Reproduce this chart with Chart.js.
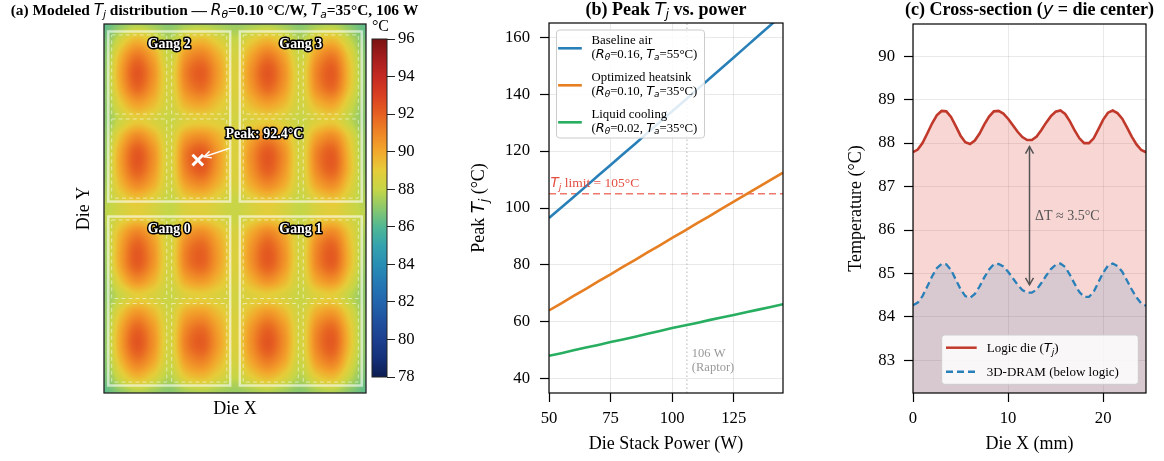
<!DOCTYPE html>
<html>
<head>
<meta charset="utf-8">
<title>Logic die thermal model</title>
<script src="https://cdn.jsdelivr.net/npm/chart.js@4.4.1/dist/chart.umd.min.js"></script>
<style>
  html, body { margin: 0; padding: 0; background: #fff; }
  #fig { position: relative; width: 1164px; height: 461px; overflow: hidden; }
  #fig canvas { position: absolute; left: 0; top: 0; }
</style>
</head>
<body>
<div id="fig">
  <canvas id="heat" width="1164" height="461"></canvas>
  <canvas id="cbar" width="1164" height="461"></canvas>
  <canvas id="power" width="1164" height="461"></canvas>
  <canvas id="xsec" width="1164" height="461"></canvas>
</div>
<script>
// ---------- (a) modeled Tj map (°C); columns = die X (mm), rows listed from the top edge ----------
const heatXmm = [0, 1.53, 3.06, 4.59, 6.13, 7.66, 9.19, 10.72, 12.25, 13.78, 15.31, 16.84, 18.38, 19.91, 21.44, 22.97, 24.5];
const heatYmm = [34.5, 33, 31.5, 30, 28.5, 27, 25.5, 24, 22.5, 21, 19.5, 18, 16.5, 15, 13.5, 12, 10.5, 9, 7.5, 6, 4.5, 3, 1.5, 0];
const heatRows = [
  [86.2, 87.0, 87.6, 87.3, 86.9, 87.4, 87.6, 87.4, 87.2, 87.4, 87.6, 87.3, 86.9, 87.4, 87.6, 86.9, 86.2],
  [86.6, 88.4, 89.6, 88.8, 87.7, 89.1, 89.5, 88.7, 88.0, 88.9, 89.6, 88.8, 87.7, 89.0, 89.5, 88.0, 86.6],
  [86.8, 89.6, 91.4, 90.1, 88.1, 90.5, 91.2, 89.8, 88.4, 90.1, 91.4, 90.1, 88.1, 90.4, 91.3, 89.0, 86.8],
  [86.9, 90.1, 92.3, 90.7, 88.4, 91.2, 92.1, 90.3, 88.6, 90.7, 92.3, 90.7, 88.4, 91.1, 92.1, 89.4, 86.9],
  [86.9, 89.8, 91.8, 90.4, 88.4, 90.8, 91.6, 90.0, 88.6, 90.4, 91.8, 90.4, 88.4, 90.8, 91.7, 89.2, 86.9],
  [86.9, 88.9, 90.2, 89.5, 88.3, 89.7, 90.1, 89.2, 88.5, 89.5, 90.2, 89.5, 88.3, 89.6, 90.1, 88.4, 86.9],
  [86.9, 88.2, 89.0, 88.6, 88.1, 88.7, 88.9, 88.7, 88.4, 88.7, 89.0, 88.6, 88.1, 88.7, 89.0, 87.9, 86.9],
  [87.0, 89.3, 90.9, 89.8, 88.3, 90.2, 90.7, 89.7, 88.6, 89.9, 90.9, 89.8, 88.3, 90.1, 90.8, 88.9, 87.0],
  [87.0, 90.1, 92.2, 90.7, 88.4, 91.3, 92.2, 90.3, 88.6, 90.7, 92.2, 90.7, 88.4, 91.1, 92.0, 89.4, 87.0],
  [87.1, 90.1, 92.1, 90.6, 88.4, 91.2, 92.2, 90.3, 88.6, 90.6, 92.1, 90.6, 88.4, 91.0, 92.0, 89.5, 87.1],
  [87.3, 89.5, 90.9, 89.9, 88.3, 90.2, 90.8, 89.6, 88.5, 89.9, 90.9, 89.9, 88.3, 90.1, 90.8, 89.0, 87.3],
  [87.6, 88.6, 89.2, 88.7, 88.0, 88.9, 89.1, 88.6, 88.1, 88.7, 89.2, 88.7, 88.0, 88.8, 89.2, 88.4, 87.6],
  [87.8, 88.5, 89.0, 88.6, 88.0, 88.7, 88.9, 88.5, 88.1, 88.6, 89.0, 88.6, 88.0, 88.7, 89.0, 88.4, 87.8],
  [87.4, 89.6, 91.0, 89.9, 88.3, 90.2, 90.8, 89.6, 88.5, 89.9, 91.0, 89.9, 88.3, 90.2, 90.9, 89.1, 87.4],
  [87.2, 90.1, 92.1, 90.6, 88.4, 91.1, 91.9, 90.2, 88.6, 90.6, 92.1, 90.6, 88.4, 91.0, 92.0, 89.5, 87.2],
  [87.1, 90.1, 92.1, 90.6, 88.4, 91.1, 91.9, 90.2, 88.6, 90.6, 92.1, 90.6, 88.4, 91.0, 92.0, 89.5, 87.1],
  [87.0, 89.2, 90.7, 89.7, 88.3, 90.0, 90.5, 89.5, 88.5, 89.7, 90.7, 89.7, 88.3, 90.0, 90.6, 88.8, 87.0],
  [87.0, 88.1, 88.9, 88.6, 88.1, 88.7, 88.9, 88.6, 88.4, 88.7, 88.9, 88.6, 88.1, 88.7, 88.9, 87.9, 87.0],
  [87.0, 89.1, 90.5, 89.6, 88.3, 89.9, 90.3, 89.4, 88.5, 89.6, 90.5, 89.6, 88.3, 89.9, 90.4, 88.7, 87.0],
  [86.9, 89.9, 91.9, 90.5, 88.4, 90.9, 91.7, 90.1, 88.6, 90.5, 91.9, 90.5, 88.4, 90.9, 91.8, 89.3, 86.9],
  [86.9, 90.1, 92.3, 90.7, 88.4, 91.2, 92.1, 90.3, 88.6, 90.7, 92.3, 90.7, 88.4, 91.1, 92.1, 89.4, 86.9],
  [86.8, 89.5, 91.3, 90.1, 88.2, 90.4, 91.1, 89.7, 88.4, 90.1, 91.3, 90.1, 88.2, 90.4, 91.2, 88.9, 86.8],
  [86.6, 88.4, 89.6, 88.8, 87.7, 89.1, 89.5, 88.7, 88.0, 88.9, 89.6, 88.8, 87.7, 89.0, 89.5, 88.0, 86.6],
  [86.2, 87.0, 87.6, 87.3, 86.9, 87.4, 87.6, 87.4, 87.2, 87.4, 87.6, 87.3, 86.9, 87.4, 87.6, 86.9, 86.2]
];
const cbarTicks = [78, 80, 82, 84, 86, 88, 90, 92, 94, 96];
const gangNames = ['Gang 2', 'Gang 3', 'Gang 0', 'Gang 1'];
const peakAt = [{ x: 8.77, y: 21.78 }];
const peakText = 'Peak: 92.4°C';

// ---------- (b) peak Tj vs. die stack power ----------
const powerW = [50, 55, 60, 65, 70, 75, 80, 85, 90, 95, 100, 105, 110, 115, 120, 125, 130, 135, 140, 145];
const tjBaselineAir = [96.5, 100.2, 103.9, 107.6, 111.4, 115.1, 118.9, 122.6, 126.4, 130.2, 134.0, 137.7, 141.5, 145.3, 149.1, 152.9, 156.7, 160.5, 164.3, 168.1];
const tjOptimizedHs = [64.0, 66.5, 69.1, 71.6, 74.2, 76.7, 79.3, 81.8, 84.4, 86.9, 89.5, 92.0, 94.6, 97.1, 99.7, 102.2, 104.8, 107.3, 109.9, 112.4];
const tjLiquid = [48.1, 49.0, 50.0, 51.0, 51.9, 52.9, 53.8, 54.8, 55.8, 56.8, 57.8, 58.7, 59.6, 60.6, 61.5, 62.4, 63.4, 64.3, 65.2, 66.2];
const tjLimit = 105;
const raptorPower = 106;
const powerRange = [50, 145];
const tjRange = [35, 165];
const powerTicks = [50, 75, 100, 125];
const tjTicks = [40, 60, 80, 100, 120, 140, 160];

// ---------- (c) cross-section at die center ----------
const dieXmm = [0, 0.5, 1, 1.5, 2, 2.5, 3, 3.5, 4, 4.5, 5, 5.5, 6, 6.5, 7, 7.5, 8, 8.5, 9, 9.5,
  10, 10.5, 11, 11.5, 12, 12.5, 13, 13.5, 14, 14.5, 15, 15.5, 16, 16.5, 17, 17.5, 18, 18.5, 19, 19.5,
  20, 20.5, 21, 21.5, 22, 22.5, 23, 23.5, 24, 24.5];
const logicTemp = [87.79, 87.85, 88.00, 88.22, 88.45, 88.64, 88.74, 88.73, 88.60, 88.39, 88.17, 88.02, 87.98, 88.06, 88.22, 88.43, 88.61, 88.73, 88.74, 88.68,
  88.56, 88.41, 88.26, 88.14, 88.07, 88.07, 88.15, 88.30, 88.47, 88.62, 88.72, 88.75, 88.67, 88.50, 88.29, 88.11, 88.00, 88.00, 88.11, 88.32,
  88.54, 88.70, 88.75, 88.69, 88.56, 88.36, 88.15, 87.97, 87.84, 87.79];
const dramTemp = [84.27, 84.33, 84.48, 84.70, 84.93, 85.12, 85.22, 85.21, 85.08, 84.86, 84.64, 84.48, 84.44, 84.53, 84.70, 84.91, 85.09, 85.21, 85.22, 85.16,
  85.04, 84.89, 84.74, 84.62, 84.56, 84.56, 84.63, 84.78, 84.95, 85.10, 85.20, 85.23, 85.15, 84.97, 84.76, 84.57, 84.46, 84.46, 84.58, 84.80,
  85.02, 85.18, 85.23, 85.17, 85.04, 84.84, 84.63, 84.45, 84.31, 84.26];
const xsecRangeY = [82.25, 90.74];
const xsecTicksX = [0, 10, 20];
const xsecTicksY = [83, 84, 85, 86, 87, 88, 89, 90];
const deltaT = { x: 12.25, from: 84.74, to: 87.92, text: 'ΔT ≈ 3.5°C' };

// ---------- styling ----------
const SERIF = '"Liberation Serif", "Times New Roman", serif';
const MATH = '"DejaVu Sans", sans-serif';
const GRID = 'rgba(0,0,0,0.085)';
const cmapStops = [
  [78, '#0c1e50'], [79, '#15307a'], [80, '#1c3f8e'], [81, '#1f519f'], [82, '#2265ad'],
  [83, '#2579b4'], [84, '#298eb4'], [85, '#34a3ae'], [86, '#50b894'], [87, '#8cc86c'],
  [88, '#c6d647'], [89, '#e6cc38'], [90, '#f2a82c'], [91, '#ef8526'], [92, '#e66021'],
  [93, '#d93f22'], [94, '#c52a23'], [95, '#a41d1d'], [96, '#7a1212']
].map(([v, h]) => [v, parseInt(h.slice(1, 3), 16), parseInt(h.slice(3, 5), 16), parseInt(h.slice(5, 7), 16)]);

Chart.defaults.font.family = SERIF;
Chart.defaults.color = '#000';

function cmap(v) {
  const s = cmapStops;
  if (v <= s[0][0]) return s[0].slice(1);
  for (let i = 1; i < s.length; i++) {
    if (v <= s[i][0]) {
      const t = (v - s[i - 1][0]) / (s[i][0] - s[i - 1][0]);
      return [1, 2, 3].map(k => Math.round(s[i - 1][k] + t * (s[i][k] - s[i - 1][k])));
    }
  }
  return s[s.length - 1].slice(1);
}

function fontOf(style, size) {
  if (style === 'b') return `bold ${size}px ${SERIF}`;
  if (style === 'm') return `italic ${size}px ${MATH}`;
  if (style === 's') return `italic ${(size * 0.7).toFixed(2)}px ${MATH}`;
  return `${size}px ${SERIF}`;
}

// mixed text: parts = [[text, style], ...], y is the baseline
function rich(ctx, parts, x, y, o) {
  const size = o.size;
  ctx.save();
  ctx.translate(x, y);
  if (o.rotate) ctx.rotate(o.rotate);
  ctx.textBaseline = 'alphabetic';
  ctx.textAlign = 'left';
  let w = 0;
  for (const [t, s] of parts) { ctx.font = fontOf(s, size); w += ctx.measureText(t).width; }
  let cx = o.align === 'center' ? -w / 2 : o.align === 'right' ? -w : 0;
  for (const [t, s] of parts) {
    ctx.font = fontOf(s, size);
    const dy = s === 's' ? size * 0.22 : 0;
    if (o.stroke) {
      ctx.lineWidth = o.stroke; ctx.strokeStyle = '#000'; ctx.lineJoin = 'round';
      ctx.strokeText(t, cx, dy);
    }
    ctx.fillStyle = o.color || '#000';
    ctx.fillText(t, cx, dy);
    cx += ctx.measureText(t).width;
  }
  ctx.restore();
}

function frame(chart, color, width) {
  const { ctx, chartArea: a } = chart;
  ctx.save();
  ctx.strokeStyle = color;
  ctx.lineWidth = width;
  ctx.strokeRect(a.left, a.top, a.right - a.left, a.bottom - a.top);
  ctx.restore();
}

function arrowHead(ctx, x, y, ang, len, half) {
  const c = Math.cos(ang), s = Math.sin(ang);
  ctx.beginPath();
  ctx.moveTo(x - len * c + half * s, y - len * s - half * c);
  ctx.lineTo(x, y);
  ctx.lineTo(x - len * c - half * s, y - len * s + half * c);
  ctx.stroke();
}

function legendBox(ctx, x, y, w, h) {
  ctx.save();
  ctx.beginPath();
  ctx.roundRect(x, y, w, h, 3);
  ctx.fillStyle = 'rgba(255,255,255,0.85)';
  ctx.fill();
  ctx.strokeStyle = '#cccccc';
  ctx.lineWidth = 1;
  ctx.stroke();
  ctx.restore();
}

const xy = (xs, ys) => xs.map((x, i) => ({ x, y: ys[i] }));
const fixedTicks = list => s => { s.ticks = list.map(v => ({ value: v })); };

function baseOptions(padding) {
  return {
    responsive: false,
    animation: false,
    devicePixelRatio: 1,
    events: [],
    layout: { padding },
    plugins: { legend: { display: false }, tooltip: { enabled: false } }
  };
}

// ---------- (a) heat map ----------
function gridPos(arr, v) {
  const asc = arr[arr.length - 1] > arr[0];
  for (let i = 0; i < arr.length - 1; i++) {
    const a0 = arr[i], a1 = arr[i + 1];
    if ((asc && v <= a1) || (!asc && v >= a1)) return i + Math.max(0, Math.min(1, (v - a0) / (a1 - a0)));
  }
  return arr.length - 1;
}
function cr(p0, p1, p2, p3, t) {
  return p1 + 0.5 * t * (p2 - p0 + t * (2 * p0 - 5 * p1 + 4 * p2 - p3 + t * (3 * (p1 - p2) + p3 - p0)));
}
function sampleHeat(fx, fy) {
  const nc = heatXmm.length, nr = heatRows.length;
  const i = Math.min(Math.floor(fx), nc - 2), j = Math.min(Math.floor(fy), nr - 2);
  const tx = fx - i, ty = fy - j;
  const ci = k => Math.max(0, Math.min(nc - 1, k));
  const rowAt = r => {
    const R = heatRows[Math.max(0, Math.min(nr - 1, r))];
    return cr(R[ci(i - 1)], R[i], R[i + 1], R[ci(i + 2)], tx);
  };
  return cr(rowAt(j - 1), rowAt(j), rowAt(j + 1), rowAt(j + 2), ty);
}

// gang outlines on the die, mm
const gangBoxes = [
  { x0: 0.4, x1: 11.8, y0: 17.9, y1: 33.8 },
  { x0: 12.7, x1: 24.1, y0: 17.9, y1: 33.8 },
  { x0: 0.4, x1: 11.8, y0: 0.7, y1: 16.5 },
  { x0: 12.7, x1: 24.1, y0: 0.7, y1: 16.5 }
];

const heatPlugin = {
  id: 'heatmap',
  beforeDatasetsDraw(chart) {
    const { ctx, chartArea: a, scales: { x, y } } = chart;
    const w = Math.round(a.right - a.left), h = Math.round(a.bottom - a.top);
    const off = document.createElement('canvas');
    off.width = w; off.height = h;
    const octx = off.getContext('2d');
    const img = octx.createImageData(w, h);
    const fxs = [], fys = [];
    for (let i = 0; i < w; i++) fxs.push(gridPos(heatXmm, x.getValueForPixel(a.left + i + 0.5)));
    for (let j = 0; j < h; j++) fys.push(gridPos(heatYmm, y.getValueForPixel(a.top + j + 0.5)));
    let p = 0;
    for (let j = 0; j < h; j++) {
      for (let i = 0; i < w; i++) {
        const c = cmap(sampleHeat(fxs[i], fys[j]));
        img.data[p++] = c[0]; img.data[p++] = c[1]; img.data[p++] = c[2]; img.data[p++] = 255;
      }
    }
    octx.putImageData(img, 0, 0);
    ctx.drawImage(off, a.left, a.top);

    ctx.save();
    // dashed sub-blocks inside each gang
    ctx.strokeStyle = 'rgba(255,255,255,0.55)';
    ctx.lineWidth = 1;
    ctx.setLineDash([4, 3]);
    gangBoxes.forEach(g => {
      const mx = (g.x0 + g.x1) / 2, my = (g.y0 + g.y1) / 2, gap = 0.23, ins = 0.32;
      const xsR = [[g.x0 + ins, mx - gap], [mx + gap, g.x1 - ins]];
      const ysR = [[g.y0 + ins, my - gap], [my + gap, g.y1 - ins]];
      xsR.forEach(([ax, bx]) => ysR.forEach(([ay, by]) => {
        const px = x.getPixelForValue(ax), py = y.getPixelForValue(by);
        ctx.strokeRect(px, py, x.getPixelForValue(bx) - px, y.getPixelForValue(ay) - py);
      }));
    });
    ctx.setLineDash([]);
    ctx.strokeStyle = 'rgba(255,255,255,0.6)';
    ctx.lineWidth = 2.5;
    gangBoxes.forEach(g => {
      const px = x.getPixelForValue(g.x0), py = y.getPixelForValue(g.y1);
      ctx.strokeRect(px, py, x.getPixelForValue(g.x1) - px, y.getPixelForValue(g.y0) - py);
    });
    ctx.restore();
    gangBoxes.forEach((g, k) => {
      rich(ctx, [[gangNames[k], 'b']], x.getPixelForValue((g.x0 + g.x1) / 2), y.getPixelForValue(g.y1) + 16.5,
        { size: 13.9, align: 'center', color: '#fff', stroke: 3 });
    });
  },
  afterDatasetsDraw(chart) {
    const { ctx, scales: { x, y } } = chart;
    const tx = x.getPixelForValue(11.73), ty = y.getPixelForValue(22.87);
    const hx = x.getPixelForValue(9.36), hy = y.getPixelForValue(22.09);
    ctx.save();
    ctx.strokeStyle = '#fff';
    ctx.lineWidth = 1.5;
    ctx.beginPath(); ctx.moveTo(tx, ty); ctx.lineTo(hx, hy); ctx.stroke();
    arrowHead(ctx, hx, hy, Math.atan2(hy - ty, hx - tx), 7, 3.5);
    ctx.restore();
    rich(ctx, [[peakText, 'b']], x.getPixelForValue(15.01), y.getPixelForValue(24.3) + 4.7,
      { size: 14, align: 'center', color: '#fff', stroke: 3 });
  },
  afterDraw(chart) {
    frame(chart, '#222', 1.3);
    rich(chart.ctx, [['(a) Modeled ', 'b'], ['T', 'm'], ['j', 's'], [' distribution — ', 'b'], ['R', 'm'], ['θ', 's'],
      ['=0.10 °C/W, ', 'b'], ['T', 'm'], ['a', 's'], ['=35°C, 106 W', 'b']], 214.5, 14.5, { size: 15.4, align: 'center' });
  }
};

const heatOpts = baseOptions({ left: 10, right: 798, top: 24, bottom: 6 });
heatOpts.scales = {
  x: {
    type: 'linear', min: 0, max: 24.5,
    afterFit: s => { s.height = 62; },
    grid: { display: false }, border: { display: false }, ticks: { display: false },
    title: { display: true, text: 'Die X', font: { family: SERIF, size: 18 }, color: '#000', padding: { top: 0, bottom: 35 } }
  },
  y: {
    type: 'linear', min: 0, max: 34.5,
    afterFit: s => { s.width = 94; },
    grid: { display: false }, border: { display: false }, ticks: { display: false },
    title: { display: true, text: 'Die Y', font: { family: SERIF, size: 18 }, color: '#000', padding: { top: 63, bottom: 0 } }
  }
};
new Chart(document.getElementById('heat'), {
  type: 'scatter',
  data: {
    datasets: [{
      data: peakAt, pointStyle: 'crossRot', pointRadius: 7.5, borderColor: '#fff', backgroundColor: '#fff', borderWidth: 3
    }]
  },
  options: heatOpts,
  plugins: [heatPlugin]
});

// ---------- colour bar ----------
const cbarPlugin = {
  id: 'cbar',
  beforeDatasetsDraw(chart) {
    const { ctx, chartArea: a, scales: { y } } = chart;
    for (let py = Math.floor(a.top); py < Math.ceil(a.bottom); py++) {
      const c = cmap(y.getValueForPixel(py + 0.5));
      ctx.fillStyle = `rgb(${c[0]},${c[1]},${c[2]})`;
      ctx.fillRect(a.left, py, a.right - a.left, 1);
    }
  },
  afterDraw(chart) {
    frame(chart, '#222', 1);
    const a = chart.chartArea;
    rich(chart.ctx, [['°C', 'r']], (a.left + a.right) / 2 + 1, a.top - 8, { size: 16, align: 'center' });
  }
};
const cbarOpts = baseOptions({ left: 372, right: 737, top: 39, bottom: 84 });
cbarOpts.scales = {
  x: { type: 'linear', display: false, min: 0, max: 1 },
  y: {
    type: 'linear', position: 'right', min: 78, max: 96,
    afterBuildTicks: fixedTicks(cbarTicks),
    afterFit: s => { s.width = 40; },
    grid: { drawOnChartArea: false, tickLength: 8, tickColor: '#222', tickWidth: 1 },
    border: { display: false },
    ticks: { font: { family: SERIF, size: 16.7 }, color: '#000', padding: 3 }
  }
};
new Chart(document.getElementById('cbar'), {
  type: 'scatter', data: { datasets: [] }, options: cbarOpts, plugins: [cbarPlugin]
});

// ---------- (b) peak Tj vs power ----------
const powerLegend = [
  ['Baseline air', [['(', 'r'], ['R', 'm'], ['θ', 's'], ['=0.16, ', 'r'], ['T', 'm'], ['a', 's'], ['=55°C)', 'r']]],
  ['Optimized heatsink', [['(', 'r'], ['R', 'm'], ['θ', 's'], ['=0.10, ', 'r'], ['T', 'm'], ['a', 's'], ['=35°C)', 'r']]],
  ['Liquid cooling', [['(', 'r'], ['R', 'm'], ['θ', 's'], ['=0.02, ', 'r'], ['T', 'm'], ['a', 's'], ['=35°C)', 'r']]]
];
const powerPlugin = {
  id: 'powerDeco',
  afterDraw(chart) {
    const { ctx, chartArea: a, scales: { x, y } } = chart;
    frame(chart, '#000', 1.2);
    // reference line labels
    rich(ctx, [['T', 'm'], ['j', 's'], [' limit = 105°C', 'r']], x.getPixelForValue(50.6), y.getPixelForValue(107.3),
      { size: 13.5, color: 'rgba(226,70,55,0.95)' });
    rich(ctx, [['106 W', 'r']], x.getPixelForValue(108), y.getPixelForValue(47.7), { size: 12.5, color: '#999' });
    rich(ctx, [['(Raptor)', 'r']], x.getPixelForValue(108), y.getPixelForValue(42.8), { size: 12.5, color: '#999' });
    // legend
    const lx = a.left + 7.5, ly = a.top + 7;
    legendBox(ctx, lx, ly, 148, 108);
    powerLegend.forEach(([l1, l2], i) => {
      const y0 = ly + 37 * i;
      ctx.save();
      ctx.strokeStyle = chart.data.datasets[i].borderColor;
      ctx.lineWidth = 2.6;
      ctx.beginPath(); ctx.moveTo(lx + 1.6, y0 + 18.3); ctx.lineTo(lx + 25.3, y0 + 18.3); ctx.stroke();
      ctx.restore();
      rich(ctx, [[l1, 'r']], lx + 35, y0 + 13.5, { size: 12.8 });
      rich(ctx, l2, lx + 35, y0 + 27.5, { size: 12.8 });
    });
    rich(ctx, [['Peak ', 'r'], ['T', 'm'], ['j', 's'], [' (°C)', 'r']], 484, (a.top + a.bottom) / 2,
      { size: 18, align: 'center', rotate: -Math.PI / 2 });
    rich(ctx, [['(b) Peak ', 'b'], ['T', 'm'], ['j', 's'], [' vs. power', 'b']], (a.left + a.right) / 2, 14.5,
      { size: 18, align: 'center' });
  }
};
const powerOpts = baseOptions({ left: 469, right: 381, top: 23, bottom: 6 });
powerOpts.scales = {
  x: {
    type: 'linear', min: powerRange[0], max: powerRange[1],
    afterBuildTicks: fixedTicks(powerTicks),
    afterFit: s => { s.height = 62; },
    grid: { color: GRID, lineWidth: 1, tickLength: 9, tickColor: '#000', tickWidth: 1.2 },
    border: { display: false },
    ticks: { font: { family: SERIF, size: 16.7 }, color: '#000', padding: 6.5, maxRotation: 0, autoSkip: false },
    title: { display: true, text: 'Die Stack Power (W)', font: { family: SERIF, size: 18 }, color: '#000', padding: { top: 0, bottom: 0 } }
  },
  y: {
    type: 'linear', min: tjRange[0], max: tjRange[1],
    afterBuildTicks: fixedTicks(tjTicks),
    afterFit: s => { s.width = 80; },
    grid: { color: GRID, lineWidth: 1, tickLength: 9, tickColor: '#000', tickWidth: 1.2 },
    border: { display: false },
    ticks: { font: { family: SERIF, size: 16.7 }, color: '#000', padding: 10, autoSkip: false }
  }
};
new Chart(document.getElementById('power'), {
  type: 'line',
  data: {
    datasets: [
      { data: xy(powerW, tjBaselineAir), borderColor: '#2980b9', borderWidth: 2.6, pointRadius: 0, order: 1 },
      { data: xy(powerW, tjOptimizedHs), borderColor: '#e67e22', borderWidth: 2.6, pointRadius: 0, order: 1 },
      { data: xy(powerW, tjLiquid), borderColor: '#27ae60', borderWidth: 2.6, pointRadius: 0, order: 1 },
      { data: xy(powerRange, [tjLimit, tjLimit]), borderColor: 'rgba(231,76,60,0.75)', borderWidth: 1.6, borderDash: [7, 4], pointRadius: 0, order: 2 },
      { data: xy([raptorPower, raptorPower], tjRange), borderColor: '#b5b5b5', borderWidth: 1, borderDash: [1.5, 2.5], pointRadius: 0, order: 3 }
    ]
  },
  options: powerOpts,
  plugins: [powerPlugin]
});

// ---------- (c) cross-section ----------
const xsecPlugin = {
  id: 'xsecDeco',
  afterDraw(chart) {
    const { ctx, chartArea: a, scales: { x, y } } = chart;
    frame(chart, '#000', 1.2);
    // delta-T arrow
    const ax = x.getPixelForValue(deltaT.x), y1 = y.getPixelForValue(deltaT.to), y2 = y.getPixelForValue(deltaT.from);
    ctx.save();
    ctx.strokeStyle = '#555';
    ctx.lineWidth = 1.5;
    ctx.beginPath(); ctx.moveTo(ax, y1); ctx.lineTo(ax, y2); ctx.stroke();
    arrowHead(ctx, ax, y1, -Math.PI / 2, 7, 4);
    arrowHead(ctx, ax, y2, Math.PI / 2, 7, 4);
    ctx.restore();
    rich(ctx, [[deltaT.text, 'r']], x.getPixelForValue(12.83), y.getPixelForValue(86.22), { size: 14, color: '#555' });
    // legend
    const w = 196.6, h = 49.3, lx = a.right - 7.7 - w, ly = a.bottom - 8.7 - h;
    legendBox(ctx, lx, ly, w, h);
    ctx.save();
    ctx.lineWidth = 2.5;
    ctx.strokeStyle = '#c0392b';
    ctx.beginPath(); ctx.moveTo(lx + 4.3, ly + 12.7); ctx.lineTo(lx + 35, ly + 12.7); ctx.stroke();
    ctx.strokeStyle = '#2980b9';
    ctx.setLineDash([7, 4]);
    ctx.beginPath(); ctx.moveTo(lx + 4.3, ly + 36.7); ctx.lineTo(lx + 35, ly + 36.7); ctx.stroke();
    ctx.restore();
    rich(ctx, [['Logic die (', 'r'], ['T', 'm'], ['j', 's'], [')', 'r']], lx + 45, ly + 17, { size: 13 });
    rich(ctx, [['3D-DRAM (below logic)', 'r']], lx + 45, ly + 41, { size: 13 });
    rich(ctx, [['(c) Cross-section (', 'b'], ['y', 'm'], [' = die center)', 'b']], (a.left + a.right) / 2, 14.5,
      { size: 18, align: 'center' });
  }
};
const xsecOpts = baseOptions({ left: 830, right: 18, top: 24, bottom: 6 });
xsecOpts.scales = {
  x: {
    type: 'linear', min: 0, max: 24.5,
    afterBuildTicks: fixedTicks(xsecTicksX),
    afterFit: s => { s.height = 62; },
    grid: { color: GRID, lineWidth: 1, tickLength: 9, tickColor: '#000', tickWidth: 1.2 },
    border: { display: false },
    ticks: { font: { family: SERIF, size: 16.7 }, color: '#000', padding: 6.5, maxRotation: 0, autoSkip: false },
    title: { display: true, text: 'Die X (mm)', font: { family: SERIF, size: 18 }, color: '#000', padding: { top: 0, bottom: 0 } }
  },
  y: {
    type: 'linear', min: xsecRangeY[0], max: xsecRangeY[1],
    afterBuildTicks: fixedTicks(xsecTicksY),
    afterFit: s => { s.width = 83; },
    grid: { color: GRID, lineWidth: 1, tickLength: 9, tickColor: '#000', tickWidth: 1.2 },
    border: { display: false },
    ticks: { font: { family: SERIF, size: 16.7 }, color: '#000', padding: 9, autoSkip: false },
    title: { display: true, text: 'Temperature (°C)', font: { family: SERIF, size: 18 }, color: '#000', padding: { top: 15, bottom: 0 } }
  }
};
new Chart(document.getElementById('xsec'), {
  type: 'line',
  data: {
    datasets: [
      { data: xy(dieXmm, logicTemp), borderColor: '#c0392b', borderWidth: 2.6, pointRadius: 0,
        fill: 'start', backgroundColor: 'rgba(220,70,60,0.22)', order: 2 },
      { data: xy(dieXmm, dramTemp), borderColor: '#2980b9', borderWidth: 2.3, borderDash: [7, 4], pointRadius: 0,
        fill: 'start', backgroundColor: 'rgba(41,128,185,0.15)', order: 1 }
    ]
  },
  options: xsecOpts,
  plugins: [xsecPlugin]
});
</script>
</body>
</html>
